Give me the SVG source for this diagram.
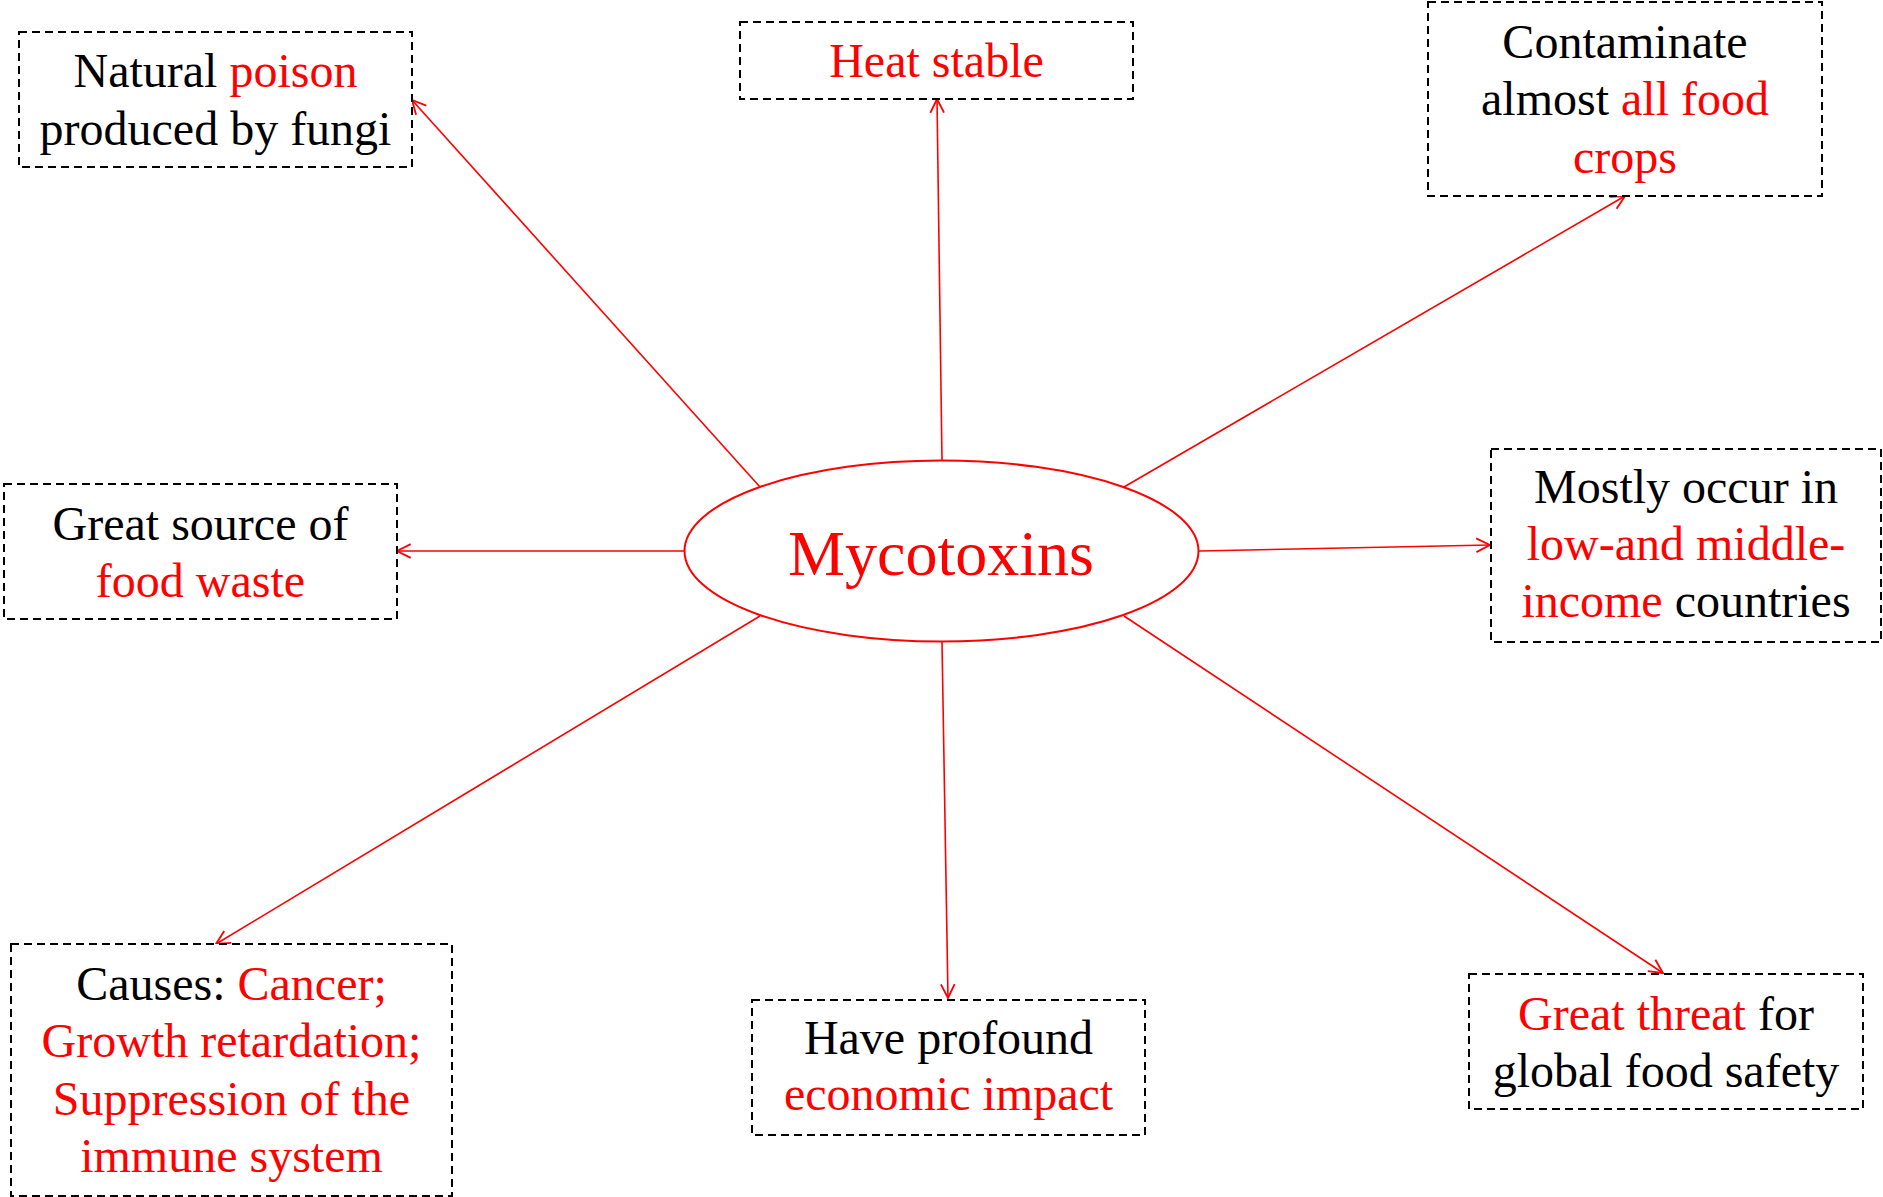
<svg xmlns="http://www.w3.org/2000/svg" width="1883" height="1197" viewBox="0 0 1883 1197">
<style>
.box{fill:#fff;stroke:#000;stroke-width:2;stroke-dasharray:8,5}
.t{font-family:"Liberation Serif","Times New Roman",serif;font-size:48px;fill:#000;text-anchor:middle}
.r{fill:#FF0000}
.c{stroke:#FF0000;stroke-width:1.6;fill:none}
</style>
<defs>
<marker id="ah" markerUnits="userSpaceOnUse" markerWidth="16" markerHeight="16" viewBox="0 0 14 14" refX="13" refY="7" orient="auto">
<path d="M1,1 L13,7 L1,13" fill="none" stroke="#FF0000" stroke-width="1.6"/>
</marker>
</defs>
<rect width="1883" height="1197" fill="#fff"/>
<g id="connectors">
<line class="c" x1="760" y1="487" x2="412" y2="100" marker-end="url(#ah)"/>
<line class="c" x1="942" y1="461" x2="937" y2="99" marker-end="url(#ah)"/>
<line class="c" x1="1124" y1="487" x2="1625" y2="196" marker-end="url(#ah)"/>
<line class="c" x1="685" y1="551" x2="397" y2="551" marker-end="url(#ah)"/>
<line class="c" x1="1199" y1="551" x2="1490" y2="545" marker-end="url(#ah)"/>
<line class="c" x1="760" y1="616" x2="216" y2="944" marker-end="url(#ah)"/>
<line class="c" x1="942" y1="642" x2="948" y2="998" marker-end="url(#ah)"/>
<line class="c" x1="1124" y1="616" x2="1663" y2="973" marker-end="url(#ah)"/>
</g>
<g id="center">
<ellipse cx="941.5" cy="551" rx="257" ry="90.5" fill="#fff" stroke="#FF0000" stroke-width="2"/>
<text x="941" y="575" class="t r" style="font-size:64px">Mycotoxins</text>
</g>
<g id="n1">
<rect class="box" x="19" y="32" width="393" height="135"/>
<text class="t" x="215.5" y="87">Natural <tspan class="r">poison</tspan></text>
<text class="t" x="215.5" y="145">produced by fungi</text>
</g>
<g id="n2">
<rect class="box" x="740" y="22" width="393" height="77"/>
<text class="t r" x="936.5" y="77">Heat stable</text>
</g>
<g id="n3">
<rect class="box" x="1428" y="2" width="394" height="194"/>
<text class="t" x="1625" y="58">Contaminate</text>
<text class="t" x="1625" y="115">almost <tspan class="r">all food</tspan></text>
<text class="t r" x="1625" y="173">crops</text>
</g>
<g id="n4">
<rect class="box" x="4" y="484" width="393" height="135"/>
<text class="t" x="200.5" y="540">Great source of</text>
<text class="t r" x="200.5" y="597">food waste</text>
</g>
<g id="n5">
<rect class="box" x="1491" y="449" width="390" height="193"/>
<text class="t" x="1686" y="503">Mostly occur in</text>
<text class="t r" x="1686" y="560">low-and middle-</text>
<text class="t" x="1686" y="617"><tspan class="r">income</tspan> countries</text>
</g>
<g id="n6">
<rect class="box" x="11" y="944" width="441" height="252"/>
<text class="t" x="231.5" y="1000">Causes: <tspan class="r">Cancer;</tspan></text>
<text class="t r" x="231.5" y="1057">Growth retardation;</text>
<text class="t r" x="231.5" y="1115">Suppression of the</text>
<text class="t r" x="231.5" y="1172">immune system</text>
</g>
<g id="n7">
<rect class="box" x="752" y="1000" width="393" height="135"/>
<text class="t" x="948.5" y="1054">Have profound</text>
<text class="t r" x="948.5" y="1110">economic impact</text>
</g>
<g id="n8">
<rect class="box" x="1469" y="974" width="394" height="135"/>
<text class="t" x="1666" y="1030"><tspan class="r">Great threat</tspan> for</text>
<text class="t" x="1666" y="1087">global food safety</text>
</g>
</svg>
